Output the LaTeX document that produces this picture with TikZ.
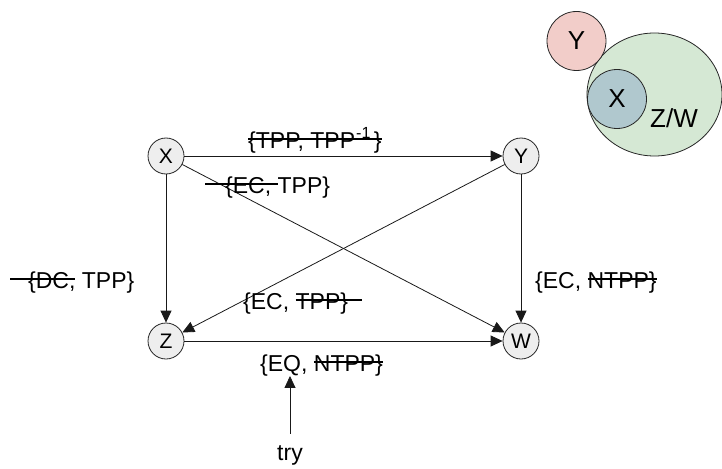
\documentclass[tikz,border=0pt]{standalone}
\usepackage{fontspec}
\setmainfont{Liberation Sans}
\usetikzlibrary{arrows.meta}
\definecolor{nodegray}{RGB}{238,238,238}
\definecolor{pinkfill}{RGB}{242,205,201}
\definecolor{greenfill}{RGB}{213,232,212}
\definecolor{bluefill}{RGB}{176,200,206}
\newsavebox\stkbox
\newcommand\stk[1]{\sbox\stkbox{#1}\rlap{\rule[0.33em]{\wd\stkbox}{2.2pt}}\usebox\stkbox}
\tikzset{
  gnode/.style={circle, draw=black!85, fill=nodegray, line width=0.8pt, minimum size=36pt, inner sep=0pt, font=\fontsize{21}{24}\selectfont},
  edge/.style={draw=black!90, line width=0.8pt, -{Triangle[length=12pt,width=11pt]}},
  lbl/.style={anchor=base west, inner sep=0pt, font=\fontsize{23}{26}\selectfont},
  venn/.style={draw=black!85, line width=0.8pt},
  vtxt/.style={font=\fontsize{26}{30}\selectfont, inner sep=0pt}
}
\begin{document}
\begin{tikzpicture}[x=1pt,y=-1pt]
\useasboundingbox (0,0) rectangle (722,468);
% Venn sketch
\draw[venn, fill=greenfill] (654.5,94.5) ellipse [x radius=67.5, y radius=61.5];
\draw[venn, fill=pinkfill] (576.5,41) circle [radius=29.5];
\draw[venn, fill=bluefill] (617,99) circle [radius=29.5];
\node[vtxt] (vy) at (576.5,41) {Y};
\node[vtxt] (vx) at (617,99) {X};
\node[vtxt, anchor=base west] (vzw) at (650,128) {Z/W};
% graph nodes
\node[gnode] (X) at (166,156) {X};
\node[gnode] (Y) at (521,156) {Y};
\node[gnode] (Z) at (166,341) {Z};
\node[gnode] (W) at (521,341) {W};
\draw[edge] (X) -- (Y);
\draw[edge] (X) -- (Z);
\draw[edge] (X) -- (W);
\draw[edge] (Y) -- (Z);
\draw[edge] (Y) -- (W);
\draw[edge] (Z) -- (W);
% labels
\node[lbl] (lxy) at (248,148) {\stk{\{TPP, TPP\textsuperscript{\hspace{1pt}-1}\hspace{3pt}\}}};
\node[lbl] (lxw) at (205,193) {\stk{\hspace*{20pt}\{EC, }TPP\}};
\node[lbl] (lxz) at (10,288) {\stk{\hspace*{18pt}\{DC,} TPP\}};
\node[lbl] (lyz) at (243,309) {\{EC, \stk{TPP\}\hspace*{14pt}}};
\node[lbl] (lyw) at (535,288) {\{EC, \stk{NTPP\}}};
\node[lbl] (lzw) at (260,371) {\{EQ, \stk{NTPP\}}};
\node[lbl, anchor=base] (try) at (290,460) {try};
\draw[edge, shorten <=11pt] (try.north) -- (try.north |- lzw.south);
\end{tikzpicture}
\end{document}
